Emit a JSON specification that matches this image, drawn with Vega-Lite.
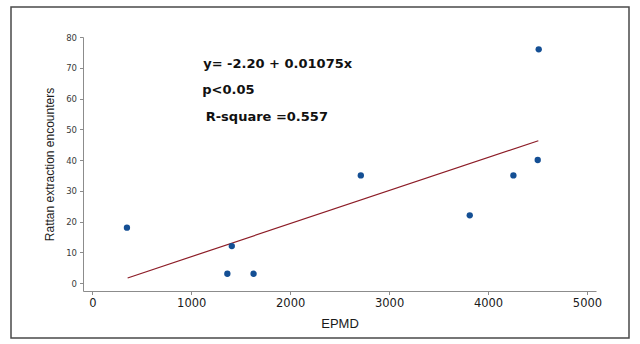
{
  "$schema": "https://vega.github.io/schema/vega-lite/v6.json",
  "autosize": "none",
  "width": 618,
  "height": 331,
  "padding": {"left": 11, "top": 7, "right": 11, "bottom": 6},
  "background": "white",
  "config": {
    "view": {"stroke": "#4a4a4a", "strokeWidth": 1.5, "fill": "white"},
    "axis": {
      "grid": false,
      "domainColor": "#8c8c8c",
      "tickColor": "#8c8c8c",
      "tickSize": 3.5,
      "labelFont": "DejaVu Sans",
      "labelColor": "#2a2a2a",
      "titleFont": "Liberation Sans",
      "titleFontWeight": "normal",
      "titleColor": "#1a1a1a"
    }
  },
  "datasets": {
    "obs": [
      {"EPMD": 350, "encounters": 18},
      {"EPMD": 1365, "encounters": 3},
      {"EPMD": 1410, "encounters": 12},
      {"EPMD": 1630, "encounters": 3},
      {"EPMD": 2714, "encounters": 35},
      {"EPMD": 3815, "encounters": 22},
      {"EPMD": 4256, "encounters": 35},
      {"EPMD": 4502, "encounters": 40},
      {"EPMD": 4512, "encounters": 76}
    ],
    "fit": [
      {"EPMD": 357, "encounters": 1.64},
      {"EPMD": 4508, "encounters": 46.26}
    ],
    "notes": [
      {"EPMD": 1121, "encounters": 70.0, "label": "y= -2.20 + 0.01075x"},
      {"EPMD": 1111, "encounters": 61.6, "label": "p<0.05"},
      {"EPMD": 1146, "encounters": 52.8, "label": "R-square =0.557"}
    ]
  },
  "layer": [
    {
      "data": {"name": "fit"},
      "mark": {"type": "line", "color": "#8c1c26", "strokeWidth": 1.2, "clip": false},
      "encoding": {
        "x": {
          "field": "EPMD", "type": "quantitative",
          "scale": {"domain": [-94, 5091], "range": [72, 585], "nice": false, "zero": false},
          "axis": {
            "title": "EPMD", "values": [0, 1000, 2000, 3000, 4000, 5000], "format": "d",
            "offset": -47, "labelFontSize": 11.5, "titleFontSize": 13,
            "titlePadding": 8, "labelPadding": 3, "labelColor": "#1a1a1a"
          }
        },
        "y": {
          "field": "encounters", "type": "quantitative",
          "scale": {"domain": [-2.6, 80], "range": [284, 30], "nice": false, "zero": false},
          "axis": {
            "title": "Rattan extraction encounters", "values": [0, 10, 20, 30, 40, 50, 60, 70, 80],
            "offset": -72, "labelFontSize": 8.5, "titleFontSize": 12,
            "titlePadding": 9, "labelPadding": 3, "labelColor": "#3a3a3a"
          }
        }
      }
    },
    {
      "data": {"name": "obs"},
      "mark": {"type": "point", "filled": true, "color": "#144f94", "size": 40, "opacity": 1},
      "encoding": {
        "x": {"field": "EPMD", "type": "quantitative"},
        "y": {"field": "encounters", "type": "quantitative"}
      }
    },
    {
      "data": {"name": "notes"},
      "mark": {"type": "text", "align": "left", "baseline": "alphabetic", "font": "DejaVu Sans", "fontWeight": "bold", "fontSize": 13, "color": "#111111"},
      "encoding": {
        "x": {"field": "EPMD", "type": "quantitative"},
        "y": {"field": "encounters", "type": "quantitative"},
        "text": {"field": "label"}
      }
    }
  ]
}
